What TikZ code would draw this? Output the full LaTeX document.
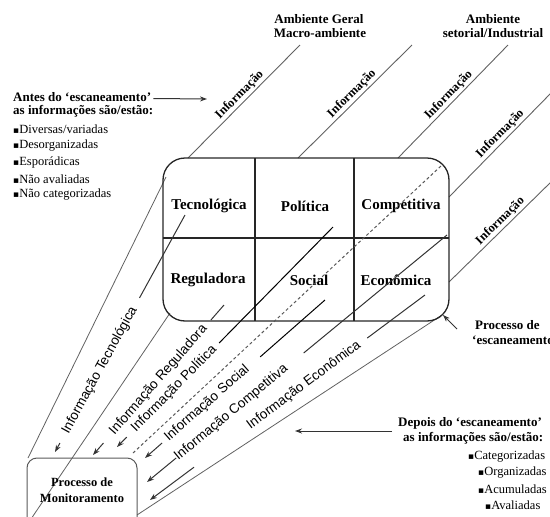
\documentclass[tikz,border=0pt]{standalone}
\usepackage{fontspec}
\setmainfont{Liberation Serif}
\newfontfamily\sansf{Liberation Sans}
\newfontfamily\symf{DejaVu Sans}
\usetikzlibrary{arrows.meta,calc}
\newcommand{\bul}{{\symf\fontsize{9}{9}\selectfont ▪}}
\begin{document}
\begin{tikzpicture}[x=1pt,y=-1pt,
  boxline/.style={draw=black!85,line width=1.3pt},
  outer/.style={draw=black!62,line width=0.9pt},
  env/.style={draw=black!62,line width=0.8pt},
  seg/.style={draw=black!80,line width=1pt},
  flow/.style={draw=black!80,line width=1pt,-{Stealth[length=7pt,width=5pt]}},
  dashline/.style={draw=black!65,line width=1pt,dash pattern=on 3pt off 2.5pt},
  cell/.style={font=\bfseries\fontsize{15}{15}\selectfont, inner sep=0pt},
  outlab/.style={font=\bfseries\fontsize{12.5}{12.5}\selectfont, inner sep=1.5pt},
  lab/.style={font=\sansf\fontsize{13.5}{13.5}\selectfont, inner sep=0.6pt},
  head/.style={font=\bfseries\fontsize{13}{13}\selectfont, inner sep=0pt},
  item/.style={font=\fontsize{12.5}{12.5}\selectfont, inner sep=0pt, anchor=west},
]
\useasboundingbox (0,0) rectangle (550,517);

% ---------- outer information lines ----------
\coordinate (L1a) at (188,158); \coordinate (L1b) at (300,45);
\coordinate (L2a) at (298,158); \coordinate (L2b) at (412,45);
\coordinate (L3a) at (398,158); \coordinate (L3b) at (508,45);
\coordinate (L4a) at (449,197); \coordinate (L4b) at (552,92);
\coordinate (L5a) at (449,282); \coordinate (L5b) at (552,181);
\draw[outer] (L1a) -- (L1b) node[pos=0.51, sloped, above, outlab, text=black] {Informação};
\draw[outer] (L2a) -- (L2b) node[pos=0.52, sloped, above, outlab, text=black] {Informação};
\draw[outer] (L3a) -- (L3b) node[pos=0.51, sloped, above, outlab, text=black] {Informação};
\draw[outer] (L4a) -- (L4b) node[pos=0.55, sloped, above, outlab, text=black] {Informação};
\draw[outer] (L5a) -- (L5b) node[pos=0.55, sloped, above, outlab, text=black] {Informação};

% ---------- envelope lines ----------
\coordinate (E1a) at (166,177); \coordinate (E1b) at (28,458);
\coordinate (E2a) at (170,313); \coordinate (E2b) at (31,519);
\coordinate (E3a) at (442,315); \coordinate (E3b) at (137,515);
\draw[env] (E1a) -- (E1b);
\draw[env] (E2a) -- (E2b);
\draw[env] (E3a) -- (E3b);

% ---------- main box ----------
\node[boxline, rounded corners=22pt, minimum width=286pt, minimum height=163pt, inner sep=0pt, outer sep=0pt] (box) at (306,239.5) {};
\draw[boxline] (255,158) -- (255,321);
\draw[boxline] (354,158) -- (354,321);
\draw[boxline] (163,238) -- (449,238);

\node[cell] (tec) at (209,206) {Tecnológica};
\node[cell] (pol) at (305,206) {Política};
\node[cell] (com) at (401,206) {Competitiva};
\node[cell] (reg) at (208,280) {Reguladora};
\node[cell] (soc) at (309,280) {Social};
\node[cell] (eco) at (396,280) {Econômica};

% ---------- monitoring box ----------
\draw[draw=black!65, line width=1pt, rounded corners=10pt] (27,525) -- (27,458) -- (137,458) -- (137,525);
\node[head, align=center, font=\bfseries\fontsize{12.5}{16}\selectfont] (mon) at (82,490) {Processo de\\Monitoramento};

% ---------- flows ----------
\coordinate (S1) at (185,215); \coordinate (T1) at (55,452);
\coordinate (S2) at (224,305); \coordinate (T2) at (93,455);
\coordinate (S3) at (333,227); \coordinate (T3) at (117,447);
\coordinate (S4) at (325,300); \coordinate (T4) at (145,458);
\coordinate (S5) at (447,235); \coordinate (T5) at (147,482);
\coordinate (S6) at (425,295); \coordinate (T6) at (150,500);
\coordinate (D1) at (441,166); \coordinate (D2) at (133,453);

\draw[dashline] (D1) -- (D2);

\draw[seg] (S1) -- ($(S1)!0.35!(T1)$);
\path (S1) -- (T1) node[pos=0.655, sloped, lab] {Informação Tecnológica};
\draw[flow] ($(S1)!0.962!(T1)$) -- (T1);

\draw[seg, draw=black] (S3) -- ($(S3)!0.527!(T3)$);
\path (S3) -- (T3) node[pos=0.736, sloped, lab] {Informação Política};
\draw[flow] ($(S3)!0.955!(T3)$) -- (T3);

\draw[seg] (S2) -- ($(S2)!0.1!(T2)$);
\path (S2) -- (T2) node[pos=0.5, sloped, lab, fill=white] {Informação Reguladora};
\draw[flow] ($(S2)!0.92!(T2)$) -- (T2);

\draw[seg, draw=black] (S4) -- ($(S4)!0.36!(T4)$);
\path (S4) -- (T4) node[pos=0.655, sloped, lab] {Informação Social};
\draw[flow] ($(S4)!0.905!(T4)$) -- (T4);

\draw[seg] (S5) -- ($(S5)!0.478!(T5)$);
\path (S5) -- (T5) node[pos=0.719, sloped, lab] {Informação Competitiva};
\draw[flow] ($(S5)!0.903!(T5)$) -- (T5);

\draw[seg] (S6) -- ($(S6)!0.21!(T6)$);
\path (S6) -- (T6) node[pos=0.44, sloped, lab] {Informação Econômica};
\draw[flow] ($(S6)!0.84!(T6)$) -- (T6);

% ---------- headings ----------
\node[head] (amb1) at (319,19) {Ambiente Geral};
\node[head] (amb1b) at (320,33) {Macro-ambiente};
\node[head] (amb2) at (493,19) {Ambiente};
\node[head] (amb2b) at (493,33) {setorial/Industrial};

% ---------- left block ----------
\node[head, anchor=west] (antes) at (13,97) {Antes do ‘escaneamento’};
\node[head, anchor=west] (antes2) at (13,111) {as informações são/estão:};
\node[item] (i1) at (13,129) {\bul Diversas/variadas};
\node[item] (i2) at (13,146) {\bul Desorganizadas};
\node[item] (i3) at (13,162) {\bul Esporádicas};
\node[item] (i4) at (13,179) {\bul Não avaliadas};
\node[item] (i5) at (13,195) {\bul Não categorizadas};
\coordinate (antesT) at (207,99);
\draw[flow] (antes.east) ++(2,1.5) -- (antesT);

% ---------- scanning process ----------
\node[head, anchor=west] (esc1) at (475,325) {Processo de};
\node[head, anchor=west] (esc2) at (472,340) {‘escaneamento’};
\coordinate (escS) at (457,329); \coordinate (escT) at (443,315);
\draw[flow] (escS) -- (escT);

% ---------- right block ----------
\node[head, anchor=west] (dep) at (398,423) {Depois do ‘escaneamento’};
\node[head, anchor=west] (dep2) at (403,438) {as informações são/estão:};
\node[item] (j1) at (468,457) {\bul Categorizadas};
\node[item] (j2) at (478,473) {\bul Organizadas};
\node[item] (j3) at (478,489) {\bul Acumuladas};
\node[item] (j4) at (485,505) {\bul Avaliadas};
\coordinate (depS) at (392,431); \coordinate (depT) at (295,431);
\draw[flow] (depS) -- (depT);
\end{tikzpicture}
\end{document}
